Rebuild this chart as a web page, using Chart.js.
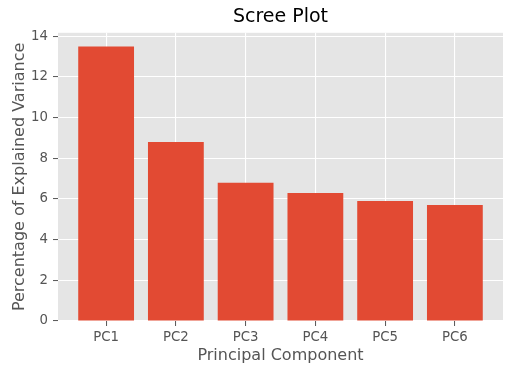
<!DOCTYPE html>
<html>
<head>
<meta charset="utf-8">
<script src="https://cdn.jsdelivr.net/npm/chart.js@4"></script>
<style>
  html, body { margin: 0; padding: 0; background: #fff; }
  #wrap { width: 512px; height: 371px; }
</style>
</head>
<body>
<div id="wrap"><canvas id="scree" width="512" height="371"></canvas></div>
<script>
// data
const components = ['PC1', 'PC2', 'PC3', 'PC4', 'PC5', 'PC6'];
const explainedVariance = [13.5, 8.8, 6.8, 6.3, 5.9, 5.7];
const yTicks = [0, 2, 4, 6, 8, 10, 12, 14];

const FONT = '"DejaVu Sans", sans-serif';
const TEXT_GREY = '#555555';

// grey panel behind the grid, ggplot style
const panelBg = {
    id: 'panelBg',
    beforeDraw(chart) {
        const { ctx, chartArea: a } = chart;
        ctx.save();
        ctx.fillStyle = '#E5E5E5';
        ctx.fillRect(a.left, a.top, a.right - a.left, a.bottom - a.top);
        ctx.restore();
    }
};

const ctx = document.getElementById('scree').getContext('2d');

new Chart(ctx, {
    type: 'bar',
    data: {
        datasets: [{
            data: explainedVariance.map((v, i) => ({ x: i, y: v })),
            backgroundColor: '#E24A33',
            borderWidth: 0,
            barPercentage: 0.8,
            categoryPercentage: 1.0
        }]
    },
    options: {
        responsive: false,
        animation: false,
        devicePixelRatio: 1,
        layout: { padding: { left: 0, right: 9, top: 0, bottom: 0 } },
        plugins: {
            legend: { display: false },
            tooltip: { enabled: false },
            title: {
                display: true,
                fullSize: false, // centre over the plot panel, like matplotlib
                text: 'Scree Plot',
                color: '#000000',
                font: { family: FONT, size: 19, weight: 'normal' },
                padding: { top: 6, bottom: 4 }
            }
        },
        scales: {
            x: {
                type: 'linear',
                min: -0.69,
                max: 5.69,
                offset: false,
                afterFit: (s) => { s.height = 50; },
                afterBuildTicks: (s) => { s.ticks = components.map((_, i) => ({ value: i })); },
                ticks: {
                    color: TEXT_GREY,
                    font: { family: FONT, size: 13.3 },
                    padding: 4,
                    maxRotation: 0,
                    autoSkip: false,
                    callback: (v) => components[v] ?? ''
                },
                grid: {
                    offset: false,
                    color: '#FFFFFF',
                    lineWidth: 1.1,
                    tickColor: TEXT_GREY,
                    tickWidth: 1,
                    tickLength: 5
                },
                border: { display: false },
                title: {
                    display: true,
                    text: 'Principal Component',
                    color: TEXT_GREY,
                    font: { family: FONT, size: 16 },
                    padding: { top: 0, bottom: 6 }
                }
            },
            y: {
                min: 0,
                max: 14.175,
                afterFit: (s) => { s.width = 58; },
                afterBuildTicks: (s) => { s.ticks = yTicks.map(v => ({ value: v })); },
                ticks: {
                    color: TEXT_GREY,
                    font: { family: FONT, size: 13.3 },
                    padding: 5
                },
                grid: {
                    color: '#FFFFFF',
                    lineWidth: 1.1,
                    tickColor: TEXT_GREY,
                    tickWidth: 1,
                    tickLength: 5
                },
                border: { display: false },
                title: {
                    display: true,
                    text: 'Percentage of Explained Variance',
                    color: TEXT_GREY,
                    font: { family: FONT, size: 16 },
                    padding: { top: 10, bottom: 0 }
                }
            }
        }
    },
    plugins: [panelBg]
});
</script>
</body>
</html>
